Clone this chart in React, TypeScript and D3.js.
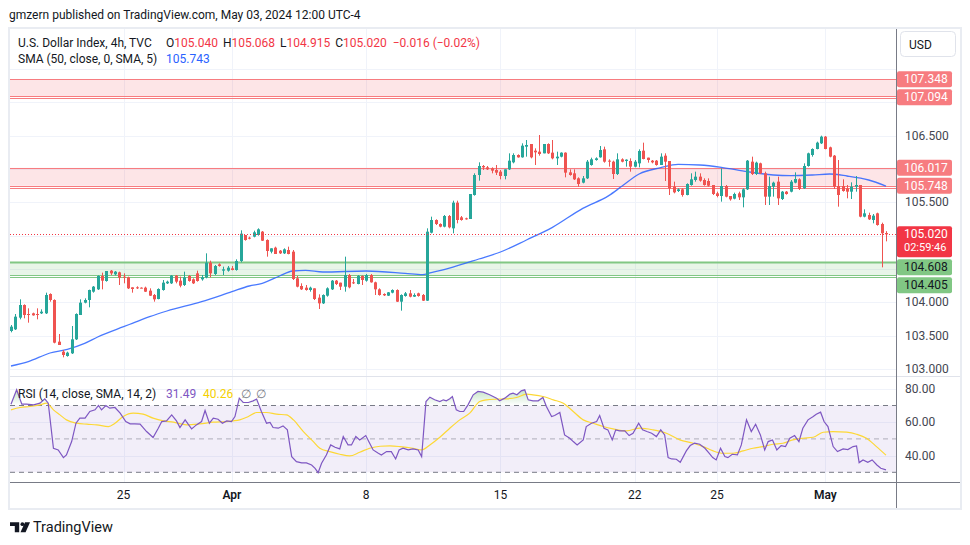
import * as d3 from 'd3'
import { useEffect, useRef } from 'react'

const width = 970, height = 545

// U.S. Dollar Index (TVC), 4h bars: [open, high, low, close]
const ohlc: [number, number, number, number][] = [
  [103.57, 103.66, 103.55, 103.635], [103.595, 103.825, 103.585, 103.785], [103.77, 104.045, 103.745, 103.96],
  [103.96, 103.97, 103.76, 103.81], [103.825, 103.91, 103.695, 103.81], [103.835, 103.845, 103.8, 103.805],
  [103.825, 103.91, 103.745, 103.81], [103.835, 103.895, 103.825, 103.86], [103.835, 104.145, 103.825, 104.11],
  [104.125, 104.135, 104.01, 104.035], [104.035, 104.045, 103.385, 103.395], [103.41, 103.525, 103.36, 103.36],
  [103.26, 103.285, 103.175, 103.21], [103.195, 103.26, 103.185, 103.245], [103.235, 103.645, 103.225, 103.445],
  [103.445, 103.835, 103.435, 103.825], [103.81, 104.045, 103.81, 103.995], [103.995, 104.06, 103.985, 104.035],
  [104.035, 104.19, 103.925, 104.185], [104.16, 104.245, 104.145, 104.235], [104.195, 104.405, 104.185, 104.395],
  [104.395, 104.445, 104.195, 104.325], [104.32, 104.47, 104.31, 104.47], [104.475, 104.485, 104.41, 104.435],
  [104.42, 104.47, 104.405, 104.46], [104.45, 104.46, 104.26, 104.37], [104.385, 104.435, 104.285, 104.37],
  [104.375, 104.385, 104.2, 104.21], [104.225, 104.225, 104.145, 104.2], [104.225, 104.24, 104.2, 104.215],
  [104.22, 104.225, 104.21, 104.218], [104.22, 104.235, 104.155, 104.16], [104.175, 104.21, 104.095, 104.1],
  [104.11, 104.125, 104.01, 104.045], [104.05, 104.21, 104.045, 104.2], [104.185, 104.335, 104.175, 104.295],
  [104.285, 104.325, 104.275, 104.31], [104.285, 104.41, 104.275, 104.4], [104.4, 104.41, 104.285, 104.31],
  [104.325, 104.385, 104.225, 104.25], [104.26, 104.46, 104.245, 104.375], [104.395, 104.41, 104.31, 104.32],
  [104.345, 104.36, 104.275, 104.285], [104.435, 104.475, 104.31, 104.32], [104.345, 104.41, 104.325, 104.375],
  [104.375, 104.735, 104.36, 104.595], [104.595, 104.625, 104.375, 104.435], [104.425, 104.56, 104.41, 104.545],
  [104.57, 104.585, 104.535, 104.545], [104.475, 104.535, 104.41, 104.495], [104.475, 104.545, 104.46, 104.52],
  [104.51, 104.545, 104.48, 104.485], [104.485, 104.645, 104.475, 104.62], [104.62, 105.08, 104.6, 105.03],
  [105.01, 105.01, 104.925, 104.935], [104.97, 104.985, 104.945, 104.955], [104.985, 105.075, 104.975, 105.05],
  [105.01, 105.11, 105.0, 105.095], [105.06, 105.07, 104.92, 104.925], [104.935, 104.945, 104.685, 104.77],
  [104.76, 104.81, 104.735, 104.81], [104.82, 104.835, 104.725, 104.725], [104.775, 104.785, 104.725, 104.735],
  [104.735, 104.81, 104.725, 104.795], [104.785, 104.835, 104.72, 104.725], [104.76, 104.785, 104.335, 104.35],
  [104.36, 104.395, 104.225, 104.235], [104.245, 104.285, 104.185, 104.195], [104.22, 104.26, 104.175, 104.185],
  [104.185, 104.235, 104.16, 104.22], [104.21, 104.21, 104.035, 104.05], [104.07, 104.12, 103.9, 103.985],
  [103.985, 104.12, 103.975, 104.11], [104.1, 104.225, 104.085, 104.21], [104.195, 104.335, 104.185, 104.325],
  [104.325, 104.335, 104.26, 104.275], [104.295, 104.295, 104.185, 104.235], [104.235, 104.685, 104.16, 104.41],
  [104.41, 104.425, 104.21, 104.225], [104.3, 104.35, 104.275, 104.285], [104.275, 104.41, 104.27, 104.395],
  [104.395, 104.405, 104.26, 104.335], [104.325, 104.425, 104.31, 104.41], [104.41, 104.425, 104.295, 104.3],
  [104.3, 104.31, 104.11, 104.195], [104.195, 104.21, 104.1, 104.11], [104.125, 104.135, 104.095, 104.105],
  [104.1, 104.155, 104.095, 104.15], [104.145, 104.195, 104.135, 104.185], [104.185, 104.195, 104.005, 104.01],
  [104.01, 104.12, 103.875, 104.11], [104.095, 104.155, 104.085, 104.135], [104.135, 104.185, 104.075, 104.085],
  [104.085, 104.135, 104.08, 104.11], [104.135, 104.145, 104.085, 104.095], [104.11, 104.125, 104.02, 104.025],
  [104.025, 105.11, 104.02, 105.06], [105.045, 105.285, 105.035, 105.235], [105.235, 105.245, 105.16, 105.175],
  [105.175, 105.185, 105.125, 105.135], [105.135, 105.31, 105.125, 105.295], [105.295, 105.31, 105.11, 105.125],
  [105.11, 105.525, 105.035, 105.495], [105.495, 105.525, 105.185, 105.235], [105.275, 105.295, 105.225, 105.235],
  [105.26, 105.27, 105.24, 105.25], [105.25, 105.625, 105.25, 105.625], [105.61, 105.935, 105.6, 105.91],
  [105.91, 106.1, 105.825, 106.045], [106.045, 106.06, 105.985, 106.025], [106.025, 106.045, 105.985, 105.995],
  [106.01, 106.025, 105.935, 105.975], [105.985, 106.06, 105.91, 105.945], [105.96, 105.985, 105.845, 105.895],
  [105.895, 105.995, 105.845, 105.995], [105.995, 106.235, 105.985, 106.125], [106.1, 106.235, 106.085, 106.21],
  [106.21, 106.22, 106.17, 106.175], [106.175, 106.385, 106.17, 106.35], [106.335, 106.435, 106.185, 106.36],
  [106.375, 106.375, 106.16, 106.175], [106.275, 106.31, 106.06, 106.25], [106.26, 106.51, 106.2, 106.225],
  [106.235, 106.375, 106.235, 106.375], [106.375, 106.385, 106.225, 106.235], [106.245, 106.435, 106.145, 106.16],
  [106.16, 106.26, 106.06, 106.185], [106.185, 106.25, 106.175, 106.245], [106.245, 106.25, 105.875, 105.945],
  [105.95, 105.995, 105.9, 105.91], [105.935, 105.995, 105.835, 105.845], [105.86, 105.875, 105.735, 105.775],
  [105.795, 105.895, 105.785, 105.86], [105.86, 106.135, 105.85, 106.11], [106.06, 106.17, 106.05, 106.145],
  [106.135, 106.175, 106.125, 106.16], [106.175, 106.345, 106.17, 106.285], [106.295, 106.335, 106.095, 106.11],
  [106.125, 106.145, 106.035, 106.11], [106.11, 106.125, 105.85, 105.925], [105.925, 106.235, 105.91, 106.145],
  [106.145, 106.16, 106.1, 106.11], [106.12, 106.145, 106.035, 106.14], [106.12, 106.16, 105.96, 106.035],
  [106.035, 106.135, 106.025, 106.11], [106.085, 106.295, 106.025, 106.27], [106.275, 106.395, 106.145, 106.15],
  [106.17, 106.17, 106.095, 106.135], [106.125, 106.135, 106.085, 106.1], [106.125, 106.135, 106.05, 106.06],
  [106.06, 106.235, 106.06, 106.185], [106.2, 106.235, 105.82, 106.11], [106.12, 106.12, 105.61, 105.71],
  [105.735, 105.81, 105.635, 105.65], [105.67, 105.71, 105.655, 105.695], [105.695, 105.71, 105.585, 105.61],
  [105.61, 105.785, 105.605, 105.775], [105.76, 105.935, 105.75, 105.845], [105.835, 105.96, 105.81, 105.885],
  [105.885, 105.935, 105.81, 105.825], [105.835, 105.86, 105.75, 105.76], [105.82, 105.86, 105.735, 105.75],
  [105.76, 105.76, 105.61, 105.625], [105.635, 105.66, 105.575, 105.595], [105.595, 106.01, 105.51, 105.745],
  [105.745, 105.76, 105.575, 105.585], [105.595, 105.595, 105.525, 105.545], [105.555, 105.645, 105.545, 105.625],
  [105.635, 105.66, 105.535, 105.575], [105.575, 105.71, 105.425, 105.695], [105.695, 106.135, 105.685, 106.125],
  [106.11, 106.185, 105.91, 105.925], [105.925, 106.11, 105.91, 106.095], [106.085, 106.095, 105.925, 105.935],
  [105.935, 105.96, 105.46, 105.585], [105.585, 105.885, 105.46, 105.745], [105.735, 105.81, 105.585, 105.795],
  [105.81, 105.885, 105.46, 105.56], [105.55, 105.67, 105.535, 105.66], [105.66, 105.67, 105.615, 105.625],
  [105.66, 105.835, 105.65, 105.81], [105.795, 105.95, 105.785, 105.85], [105.845, 105.86, 105.685, 105.7],
  [105.71, 106.085, 105.7, 106.045], [106.045, 106.245, 106.035, 106.235], [106.21, 106.31, 106.185, 106.3],
  [106.3, 106.41, 106.295, 106.395], [106.385, 106.5, 106.375, 106.485], [106.485, 106.495, 106.295, 106.3],
  [106.325, 106.335, 106.175, 106.185], [106.2, 106.21, 105.7, 105.735], [105.745, 106.135, 105.435, 105.61],
  [105.745, 105.845, 105.66, 105.67], [105.71, 105.76, 105.56, 105.66], [105.66, 105.8, 105.55, 105.735],
  [105.735, 105.895, 105.66, 105.76], [105.76, 105.76, 105.275, 105.285], [105.285, 105.395, 105.275, 105.335],
  [105.31, 105.345, 105.235, 105.245], [105.235, 105.325, 105.185, 105.3], [105.335, 105.345, 105.15, 105.16],
  [105.175, 105.195, 104.525, 105.036], [105.04, 105.068, 104.915, 105.02]
]

// SMA(50, close): [bar, value]
const sma50: [number, number][] = [
  [0, 103.045], [4, 103.11], [9, 103.24], [13, 103.295], [17, 103.385], [20, 103.48], [26, 103.635],
  [28, 103.685], [32, 103.785], [36, 103.87], [44, 104.01], [51, 104.16], [55, 104.245], [58, 104.285],
  [62, 104.395], [65, 104.47], [68, 104.48], [72, 104.455], [82, 104.47], [91, 104.435], [95, 104.415],
  [97, 104.445], [101, 104.51], [108, 104.65], [113, 104.755], [119, 104.935], [125, 105.125], [132, 105.41],
  [138, 105.6], [141, 105.74], [145, 105.925], [150, 106.02], [154, 106.07], [159, 106.06], [164, 106.025],
  [170, 105.96], [176, 105.91], [180, 105.9], [185, 105.91], [189, 105.925], [193, 105.895], [198, 105.835],
  [202, 105.743]
]

// RSI(14): [bar, value]
const rsi14: [number, number][] = [
  [0, 70.8], [1.3, 79.4], [2.5, 70.8], [3.6, 70.8], [5.2, 70.4], [6.7, 71.4], [7.8, 74], [8.6, 71.4],
  [9.8, 44.4], [10.9, 43.4], [12.1, 38.8], [12.8, 40.4], [14, 48.4], [15, 59.4], [15.9, 62.4], [17.1, 62.4],
  [18.2, 66.4], [19.4, 67.4], [20.2, 70], [20.9, 67.4], [21.9, 70], [22.8, 68.4], [24, 68.8], [25.2, 65.4],
  [26.5, 60.4], [27.5, 59], [28.6, 59], [29.8, 58.8], [31.3, 54.4], [32.8, 50.8], [34, 56.4], [34.8, 60.4],
  [35.9, 60.8], [37.1, 64.4], [38.2, 60.8], [39, 56.8], [40.2, 61.4], [40.9, 58.8], [41.7, 56], [42.8, 58.4],
  [44, 60.4], [44.8, 67], [45.8, 59.4], [46.7, 62.4], [47.8, 61.8], [48.8, 59.4], [49.8, 60.8], [50.9, 60.4],
  [51.7, 63.4], [52.7, 74.4], [53.6, 71.8], [54.8, 71.8], [55.9, 72.8], [56.7, 73.8], [57.8, 66.4], [59, 59.4],
  [59.8, 59.8], [60.5, 56.8], [61.7, 56.4], [62.8, 57.8], [63.8, 55.4], [64.8, 39.4], [65.9, 36.4], [67.1, 35.6],
  [68.2, 35.6], [69.4, 34.4], [70.2, 32.4], [70.9, 29.8], [71.7, 35.4], [72.8, 40.4], [73.8, 46.4], [74.8, 45],
  [75.9, 44], [76.7, 51.4], [77.8, 46.4], [78.6, 46.4], [79.6, 51.4], [80.5, 49.4], [81.9, 52], [82.8, 47.4],
  [83.6, 43.4], [84.8, 41.4], [85.5, 40.4], [86.7, 42.4], [87.8, 42.4], [88.8, 38], [89.6, 43.4], [90.5, 44.4],
  [91.7, 43.4], [92.8, 44], [94, 43.4], [94.8, 39.4], [95.8, 72.4], [96.7, 75], [97.8, 73.4], [99, 72.4],
  [99.8, 73.4], [100.5, 72.8], [101.3, 74], [101.9, 75.4], [102.8, 67.4], [103.6, 66.4], [104.5, 66.4],
  [105.5, 70.4], [106.7, 76.4], [107.8, 78.4], [109, 78], [110.5, 76.4], [112.1, 74.4], [112.8, 72.8],
  [114, 74.4], [115.2, 76.8], [115.9, 77.4], [116.8, 76.4], [117.8, 78.8], [118.6, 79.4], [119.4, 73.4],
  [120.5, 72.8], [121.7, 72.8], [122.8, 74.8], [123.6, 69.4], [124.8, 63.4], [125.5, 64], [126.7, 65.8],
  [127.8, 52.4], [129, 50.4], [129.8, 48.4], [130.7, 46.4], [132.1, 49.4], [132.8, 57.4], [134, 59.4],
  [135.2, 60.4], [135.9, 64], [136.9, 56.4], [137.8, 55.4], [138.8, 49.4], [139.6, 55.4], [140.5, 54.8],
  [141.7, 54.8], [142.7, 52], [143.6, 53.4], [144.9, 59.4], [145.8, 55.4], [146.8, 54.4], [147.9, 53.4],
  [149, 51.4], [150, 55.4], [150.9, 52.4], [151.7, 38.8], [152.5, 38], [153.6, 37.8], [154.5, 36],
  [155.9, 42.8], [156.8, 46], [157.8, 47.4], [159, 46.8], [160.2, 44.4], [161.2, 41.4], [162, 38.8],
  [162.8, 37.4], [163.8, 44.4], [164.8, 39.4], [165.5, 38.8], [166.5, 40.8], [167.7, 40.4], [168.6, 46.4],
  [169.8, 61.4], [170.9, 54.4], [171.9, 58.8], [173, 52.4], [174, 43.4], [174.8, 48.4], [175.8, 49.4],
  [176.8, 43.4], [177.8, 46], [178.8, 45.4], [179.8, 50.4], [180.9, 52], [181.9, 48.4], [182.8, 56.4],
  [184, 61.4], [185.2, 63.4], [185.9, 64.8], [186.9, 66], [187.7, 60.4], [188.6, 57.4], [189.8, 45.4],
  [190.8, 42.4], [192.1, 44], [193.2, 43.6], [194.4, 45.4], [195.2, 45.8], [195.8, 35.8], [196.7, 37.4],
  [197.8, 36], [198.8, 37.4], [199.9, 34.4], [200.8, 32.4], [202, 31.49]
]

// SMA(14) of the RSI: [bar, value]
const rsiMa: [number, number][] = [
  [0, 67.4], [2.1, 68.8], [4.4, 69.4], [6.7, 70.4], [8.2, 71.4], [9.8, 67.4], [11.3, 64.4], [12.8, 61.4],
  [15.2, 59.4], [17.5, 58.8], [19.8, 58.4], [22.5, 57.4], [24, 59.4], [25.9, 63.4], [28.2, 65.4], [30.5, 64.8],
  [32.8, 62.4], [35.2, 60.8], [37.5, 60], [40.5, 58.4], [43.6, 59], [46.7, 60], [49.8, 60.4], [51.3, 60.8],
  [52.8, 61.4], [54.8, 63.4], [56.7, 65.8], [59, 65.8], [61.3, 64.8], [63.6, 64.4], [65.2, 61.4], [67.5, 54.4],
  [69.8, 48.4], [71.3, 44.4], [73.6, 42.4], [75.9, 40.8], [78.2, 39.8], [80.5, 42], [82.8, 44.4], [85.2, 45.6],
  [87.5, 45.8], [89.8, 45.4], [92.8, 44.4], [94.8, 43.4], [96.7, 46.4], [99, 51], [101.3, 56.4], [103.6, 61.4],
  [105.9, 65.4], [108.2, 72.4], [109.8, 73.4], [112.1, 73.8], [114.4, 74], [116.7, 74.8], [119, 76.8],
  [120.5, 76.4], [122.8, 75.4], [125.2, 73.4], [127.5, 71.4], [129.8, 66.4], [132.1, 61.4], [134.4, 59.4],
  [136.7, 57.4], [139, 56], [142.1, 54.8], [145.2, 56.4], [148.2, 55.4], [151.3, 53.4], [154.4, 49.4],
  [157.5, 47.4], [159.8, 45.4], [162.1, 42.8], [164.4, 41.4], [166.7, 41.4], [169, 42.8], [171.3, 44.4],
  [173.6, 45.4], [175.9, 46.8], [178.2, 47.4], [180.5, 49.4], [182.8, 50.4], [185.2, 51], [187.5, 54],
  [189.8, 54.4], [192.9, 54], [195.2, 52.8], [197.5, 50.4], [199.8, 45.4], [202, 40.26]
]

const dayTicks = [26, 51, 82, 113, 144, 163, 188]
const dayLabels = ['25', 'Apr', '8', '15', '22', '25', 'May']
const monthLabels = ['Apr', 'May']
const priceTicks = [103, 103.5, 104, 104.5, 105, 105.5, 106, 106.5, 107, 107.5]
const rsiTicks = [40, 60, 80]
const rsiLevels = [70, 50, 30]
const redZones: [number, number][] = [[107.348, 107.094], [106.017, 105.748]]
const greenZones: [number, number][] = [[104.608, 104.405]]
const countdown = '02:59:46'

const UP = '#26a69a', DOWN = '#ef5350'
const fmt3 = d3.format('.3f'), fmt2 = d3.format('.2f')
const minus = (s: string) => s.replace('-', '\u2212')

const chart = (node: SVGSVGElement) => {
  const svg = d3.select(node)
  svg.selectAll('*').remove()

  const L = 10, R = 896, pTop = 29, pBot = 376, rBot = 482, axBot = 509

  const x = d3.scaleLinear().domain([0, ohlc.length - 1]).range([11, 886])
  const y = d3.scaleLinear().domain([103, 107.5]).range([369, 69])
  const yr = d3.scaleLinear().domain([30, 70]).range([472.3, 405.5])

  const defs = svg.append('defs')
  defs.append('clipPath').attr('id', 'pane')
    .append('rect').attr('x', L).attr('y', pTop).attr('width', R - L).attr('height', pBot - pTop)
  defs.append('clipPath').attr('id', 'ob')
    .append('rect').attr('x', L).attr('y', yr(80) - 20).attr('width', R - L).attr('height', yr(70) - yr(80) + 20)
  defs.append('clipPath').attr('id', 'os')
    .append('rect').attr('x', L).attr('y', yr(30)).attr('width', R - L).attr('height', 20)
  const g1 = defs.append('linearGradient').attr('id', 'obFill')
    .attr('gradientUnits', 'userSpaceOnUse').attr('x1', 0).attr('x2', 0).attr('y1', yr(80)).attr('y2', yr(70))
  g1.append('stop').attr('offset', 0).attr('stop-color', 'rgba(76,175,80,0.35)')
  g1.append('stop').attr('offset', 1).attr('stop-color', 'rgba(76,175,80,0)')
  const g2 = defs.append('linearGradient').attr('id', 'osFill')
    .attr('gradientUnits', 'userSpaceOnUse').attr('x1', 0).attr('x2', 0).attr('y1', yr(30)).attr('y2', yr(20))
  g2.append('stop').attr('offset', 0).attr('stop-color', 'rgba(242,54,69,0)')
  g2.append('stop').attr('offset', 1).attr('stop-color', 'rgba(242,54,69,0.35)')

  svg.append('rect').attr('width', width).attr('height', height).attr('fill', '#fff')

  // grid
  const grid = svg.append('g').attr('stroke', '#f0f3fa').attr('stroke-width', 1)
  grid.selectAll('line.h').data(priceTicks).join('line')
    .attr('x1', L).attr('x2', R).attr('y1', d => Math.round(y(d)) + 0.5).attr('y2', d => Math.round(y(d)) + 0.5)
  grid.selectAll('line.r').data(rsiTicks).join('line')
    .attr('x1', L).attr('x2', R).attr('y1', d => Math.round(yr(d)) + 0.5).attr('y2', d => Math.round(yr(d)) + 0.5)
  grid.selectAll('line.v').data(dayTicks).join('line')
    .attr('x1', d => Math.round(x(d)) + 0.5).attr('x2', d => Math.round(x(d)) + 0.5)
    .attr('y1', pTop).attr('y2', rBot)

  const pane = svg.append('g').attr('clip-path', 'url(#pane)')

  // zones
  const zone = (z: [number, number], fill: string, stroke: string, thickTop: boolean) => {
    const [a, b] = z
    pane.append('rect').attr('x', L).attr('width', R - L)
      .attr('y', y(a)).attr('height', y(b) - y(a)).attr('fill', fill)
    ;[a, b].forEach(v => pane.append('line').attr('x1', L).attr('x2', R)
      .attr('y1', Math.round(y(v)) + 0.5).attr('y2', Math.round(y(v)) + 0.5)
      .attr('stroke', stroke).attr('stroke-width', v === a && thickTop ? 2 : 1))
    pane.append('line').attr('x1', L).attr('x2', R)
      .attr('y1', Math.round(y(b)) + 2.5).attr('y2', Math.round(y(b)) + 2.5).attr('stroke', stroke)
  }
  redZones.forEach(z => zone(z, 'rgba(242,54,69,0.13)', '#f77c80', false))
  greenZones.forEach(z => zone(z, 'rgba(76,175,80,0.13)', '#81c784', true))

  // SMA 50
  pane.append('path').datum(sma50)
    .attr('d', d3.line().x(d => x(d[0])).y(d => y(d[1])).curve(d3.curveMonotoneX))
    .attr('fill', 'none').attr('stroke', '#2962ff').attr('stroke-width', 1.3).attr('stroke-opacity', 0.85)

  // candles
  const c = pane.append('g').selectAll('g').data(ohlc).join('g')
    .attr('fill', d => d[3] >= d[0] ? UP : DOWN).attr('stroke', d => d[3] >= d[0] ? UP : DOWN)
  c.append('line')
    .attr('x1', (d, i) => Math.round(x(i)) + 0.5).attr('x2', (d, i) => Math.round(x(i)) + 0.5)
    .attr('y1', d => y(d[1])).attr('y2', d => y(d[2]))
  c.append('rect').attr('stroke', 'none')
    .attr('x', (d, i) => Math.round(x(i)) - 1).attr('width', 3)
    .attr('y', d => y(Math.max(d[0], d[3])))
    .attr('height', d => Math.max(1, Math.abs(y(d[0]) - y(d[3]))))

  // last price line
  const last = ohlc[ohlc.length - 1]
  const prevClose = ohlc[ohlc.length - 2][3]
  pane.append('line').attr('x1', L).attr('x2', R)
    .attr('y1', Math.round(y(last[3])) + 0.5).attr('y2', Math.round(y(last[3])) + 0.5)
    .attr('stroke', '#f23645').attr('stroke-dasharray', '1 2')

  // RSI pane
  const rp = svg.append('g')
  rp.append('rect').attr('x', L).attr('width', R - L).attr('y', yr(70)).attr('height', yr(30) - yr(70))
    .attr('fill', 'rgba(126,87,194,0.1)')
  rp.selectAll('line.lvl').data(rsiLevels).join('line')
    .attr('x1', L).attr('x2', R).attr('y1', d => yr(d)).attr('y2', d => yr(d))
    .attr('stroke', d => d === 50 ? 'rgba(120,123,134,0.55)' : '#787b86')
    .attr('stroke-dasharray', '5 4')
  const area = (lvl: number) => d3.area().x(d => x(d[0])).y0(yr(lvl)).y1(d => yr(d[1]))
  rp.append('path').datum(rsi14).attr('d', area(70)).attr('fill', 'url(#obFill)').attr('clip-path', 'url(#ob)')
  rp.append('path').datum(rsi14).attr('d', area(30)).attr('fill', 'url(#osFill)').attr('clip-path', 'url(#os)')
  rp.append('path').datum(rsiMa)
    .attr('d', d3.line().x(d => x(d[0])).y(d => yr(d[1])).curve(d3.curveMonotoneX))
    .attr('fill', 'none').attr('stroke', '#fdd835').attr('stroke-width', 1.2)
  rp.append('path').datum(rsi14)
    .attr('d', d3.line().x(d => x(d[0])).y(d => yr(d[1])))
    .attr('fill', 'none').attr('stroke', '#7e57c2').attr('stroke-width', 1.2)

  // separators and axes
  svg.append('line').attr('x1', L).attr('x2', 960).attr('y1', pBot + 0.5).attr('y2', pBot + 0.5)
    .attr('stroke', '#e0e3eb')
  svg.append('line').attr('x1', L).attr('x2', 960).attr('y1', rBot + 0.5).attr('y2', rBot + 0.5)
    .attr('stroke', '#787b86')
  svg.append('line').attr('x1', R + 0.5).attr('x2', R + 0.5).attr('y1', pTop).attr('y2', axBot)
    .attr('stroke', '#787b86')

  // price labels on the axis (placed first so ticks under them can be skipped)
  const labels = [
    ...redZones.flat().map(v => ({ v, bg: '#f77c80', fg: '#fff', h: 16, lines: [fmt3(v)] })),
    { v: last[3], bg: '#f23645', fg: '#fff', h: 31, lines: [fmt3(last[3]), countdown] },
    ...greenZones.flat().map(v => ({ v, bg: '#81c784', fg: '#131722', h: 16, lines: [fmt3(v)] }))
  ].sort((a, b) => b.v - a.v)
  let prevBottom = 0
  const boxes: [number, number][] = []
  labels.forEach(lb => {
    let top = y(lb.v) - 8
    if (top < prevBottom + 2) top = prevBottom + 2
    prevBottom = top + lb.h
    boxes.push([top, top + lb.h])
  })

  const axisText = svg.append('g').attr('font-size', 12).attr('fill', '#434651')
  axisText.selectAll('text.p')
    .data(priceTicks.filter(d => !boxes.some(([t, b]) => y(d) + 5 > t && y(d) - 5 < b)))
    .join('text')
    .attr('x', 905).attr('y', d => y(d) + 4).text(d => fmt3(d))
  axisText.selectAll('text.r').data(rsiTicks).join('text')
    .attr('x', 905).attr('y', d => yr(d) + 4).text(d => fmt2(d))
  axisText.selectAll('text.t').data(dayTicks).join('text')
    .attr('x', d => x(d)).attr('y', 499).attr('text-anchor', 'middle')
    .attr('font-weight', (d, i) => monthLabels.includes(dayLabels[i]) ? 600 : 400)
    .attr('fill', '#131722')
    .text((d, i) => dayLabels[i])

  labels.forEach((lb, k) => {
    const [top] = boxes[k]
    svg.append('rect').attr('x', R + 1).attr('y', top).attr('width', 55).attr('height', lb.h)
      .attr('rx', 2).attr('fill', lb.bg)
    lb.lines.forEach((t, j) => svg.append('text').attr('x', 904).attr('y', top + 12 + j * 13)
      .attr('font-size', j ? 11 : 12).attr('fill', lb.fg).text(t))
  })

  // currency box
  svg.append('rect').attr('x', 900.5).attr('y', 31.5).attr('width', 55).attr('height', 25)
    .attr('rx', 4).attr('fill', '#fff').attr('stroke', '#e0e3eb')
  svg.append('text').attr('x', 909).attr('y', 48.5).attr('font-size', 12).attr('fill', '#131722').text('USD')

  // legends
  const chgCol = last[3] >= prevClose ? '#089981' : '#f23645'
  const chg = last[3] - prevClose
  const leg = svg.append('text').attr('y', 47).attr('font-size', 12).attr('fill', '#131722')
  leg.append('tspan').attr('x', 18).text('U.S. Dollar Index, 4h, TVC')
  ;['O', 'H', 'L', 'C'].forEach((k, i) => {
    const t = leg.append('tspan').text(k)
    if (i === 0) t.attr('x', 166)
    else t.attr('dx', 5)
    leg.append('tspan').attr('fill', chgCol).text(fmt3(last[i]))
  })
  leg.append('tspan').attr('dx', 6).attr('fill', chgCol)
    .text(`${minus(fmt3(chg))} (${minus(fmt2(chg / prevClose * 100))}%)`)

  const leg2 = svg.append('text').attr('y', 63).attr('font-size', 12).attr('fill', '#131722')
  leg2.append('tspan').attr('x', 18).text('SMA (50, close, 0, SMA, 5)')
  leg2.append('tspan').attr('x', 166).attr('fill', '#2962ff').text(fmt3(sma50[sma50.length - 1][1]))

  const leg3 = svg.append('text').attr('y', 397.5).attr('font-size', 12).attr('fill', '#131722')
  leg3.append('tspan').attr('x', 18).text('RSI (14, close, SMA, 14, 2)')
  leg3.append('tspan').attr('x', 166).attr('fill', '#7e57c2').text(fmt2(rsi14[rsi14.length - 1][1]))
  leg3.append('tspan').attr('x', 203).attr('fill', '#f5d000').text(fmt2(rsiMa[rsiMa.length - 1][1]))
  leg3.append('tspan').attr('x', 241).attr('fill', '#787b86').text('\u2205')
  leg3.append('tspan').attr('x', 256).attr('fill', '#787b86').text('\u2205')

  // header and footer
  svg.append('text').attr('x', 9).attr('y', 19).attr('font-size', 12).attr('fill', '#131722')
    .text('gmzern published on TradingView.com, May 03, 2024 12:00 UTC-4')
  const logo = svg.append('g').attr('fill', '#131722')
  logo.append('path').attr('d', 'M10 522.3 H19.2 V532.3 H14.8 V526 H10 Z')
  logo.append('circle').attr('cx', 22.4).attr('cy', 524.2).attr('r', 1.9)
  logo.append('path').attr('d', 'M25 522.3 H30 L25.6 532.3 H20.5 Z')
  svg.append('text').attr('x', 33).attr('y', 532).attr('font-size', 14.5).attr('fill', '#131722').text('TradingView')

  // outer frame
  svg.append('rect').attr('x', 9).attr('y', 28).attr('width', 952).attr('height', 481)
    .attr('fill', 'none').attr('stroke', '#e9ecf2').attr('stroke-width', 2)
}

export default function App() {
  const ref = useRef<SVGSVGElement>(null)
  useEffect(() => {
    if (ref.current) chart(ref.current)
  }, [])
  return (
    <svg ref={ref} width={width} height={height}
      style={{ position: 'absolute', left: 0, top: 0, display: 'block' }}
      fontFamily="Roboto, 'Noto Sans', sans-serif" />
  )
}
